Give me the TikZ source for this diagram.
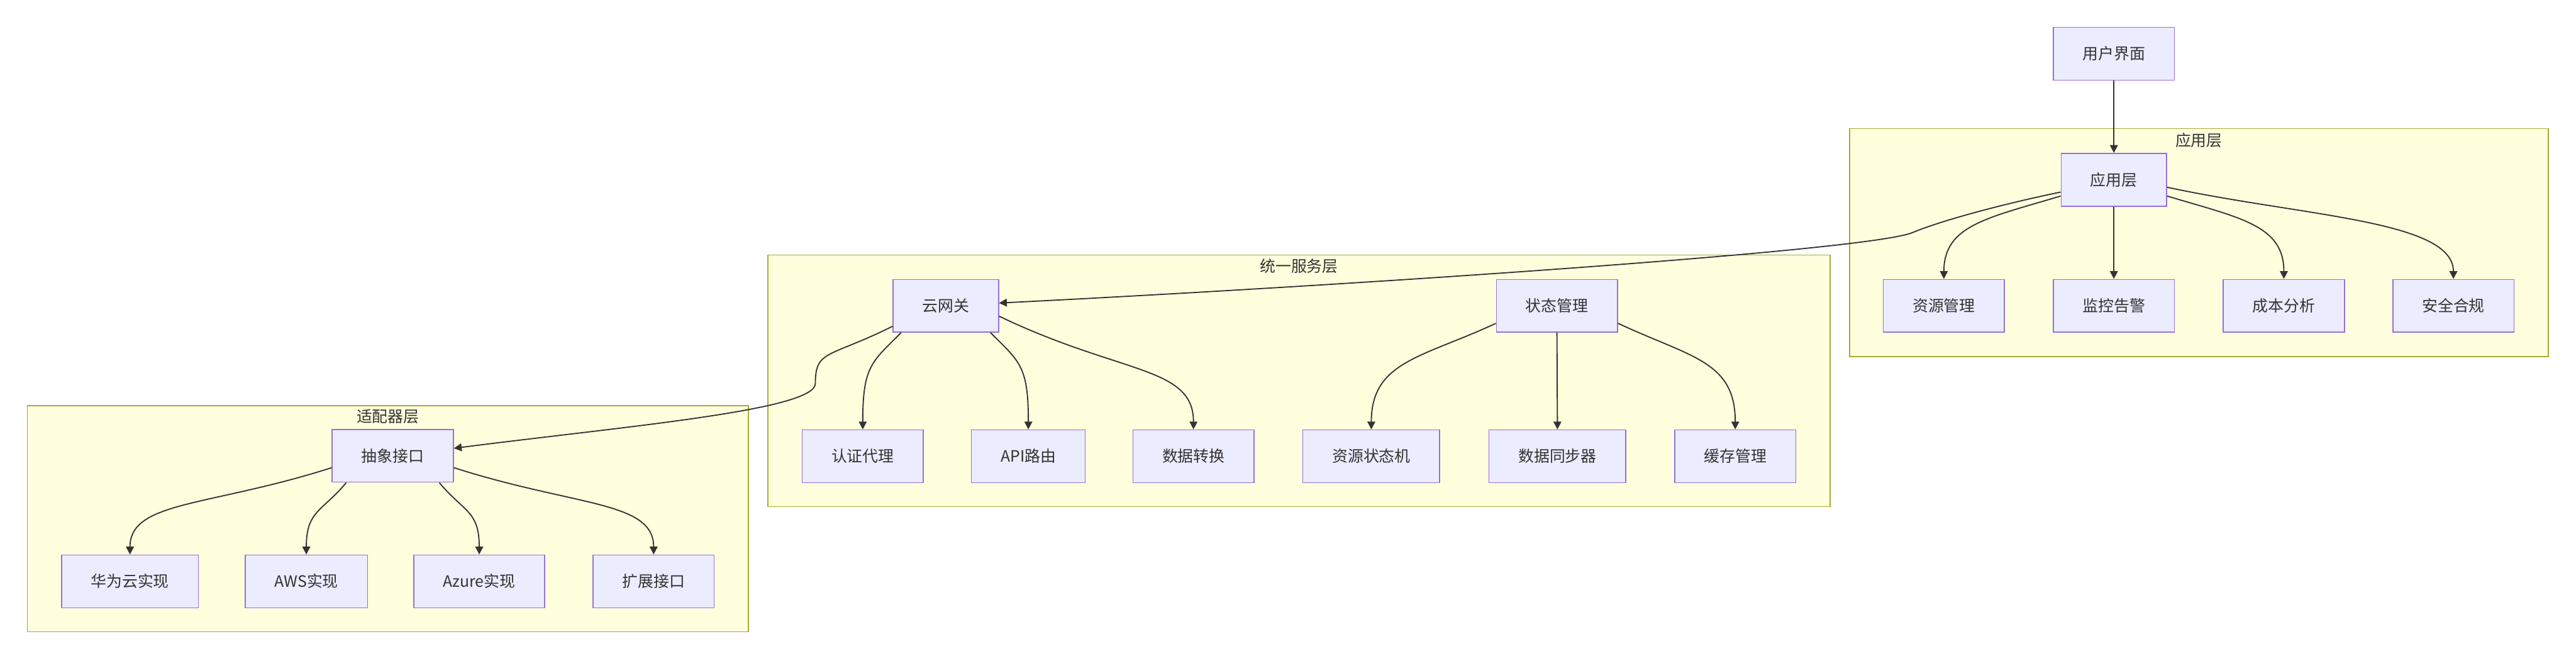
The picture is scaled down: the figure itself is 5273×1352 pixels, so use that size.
\documentclass[tikz,border=0pt]{standalone}
\usepackage{fontspec}
\setmainfont{Noto Sans CJK SC}
\usepackage{xcolor}
\usepackage{tikz}
\usetikzlibrary{positioning,arrows.meta}

\definecolor{nodefill}{HTML}{ECECFF}
\definecolor{nodeline}{HTML}{9370DB}
\definecolor{layerfill}{HTML}{FFFFDE}
\definecolor{layerline}{HTML}{AAAA33}
\definecolor{inkgray}{HTML}{333333}

\begin{document}
\begin{tikzpicture}[x=0.5pt, y=-0.5pt,
  block/.style={rectangle, draw=nodeline, fill=nodefill, line width=1pt, text=inkgray,
    font=\fontsize{16pt}{19pt}\selectfont, inner xsep=30pt, minimum height=54pt},
  layer/.style={draw=layerline, fill=layerfill, line width=1pt},
  layertitle/.style={text=inkgray, font=\fontsize{16pt}{19pt}\selectfont, inner sep=0pt},
  link/.style={draw=inkgray, line width=1.2pt, -{Triangle[length=8pt,width=8pt]}}]
  \useasboundingbox (0,0) rectangle (5273,1352);
  % Layers
  \draw[layer] (3786,263) rectangle (5216,730);
  \draw[layer] (1572,522) rectangle (3746,1037);
  \draw[layer] (56,830) rectangle (1532,1293);
  \node[layertitle] (appT) at (4501,287) {应用层};
  \node[layertitle] (svcT) at (2659,545) {统一服务层};
  \node[layertitle] (adpT) at (794,852) {适配器层};
  % Nodes
  \node[block] (ui) at (4327,110) {用户界面};
  \node[block] (app) at (4327,368) {应用层};
  \foreach \n/\x/\t in {res/3979/资源管理, mon/4327/监控告警, cost/4675/成本分析, sec/5022/安全合规} {
    \node[block] (\n) at (\x,626) {\t};
  }
  \node[block] (gw) at (1936,626) {云网关};
  \node[block] (state) at (3187,626) {状态管理};
  \foreach \n/\x/\t in {auth/1766/认证代理, api/2105/API路由, conv/2443/数据转换, fsm/2807/资源状态机, sync/3188/数据同步器, cache/3552/缓存管理} {
    \node[block] (\n) at (\x,934) {\t};
  }
  \node[block] (abs) at (804,933) {抽象接口};
  \foreach \n/\x/\t in {hw/266/华为云实现, aws/627/AWS实现, az/981/Azure实现, ext/1338/扩展接口} {
    \node[block] (\n) at (\x,1190) {\t};
  }
  % Edges
  \draw[link] (ui.south) -- (app.north);
  \draw[link] (app.193) .. controls +(-120,25) and +(60,-25) .. (3915,476) .. controls +(-90,38) and +(700,-35) .. (gw.3);
  \draw[link] (app.197) .. controls +(-150,45) and +(0,-110) .. (res.north);
  \draw[link] (app.south) -- (mon.north);
  \draw[link] (app.-17) .. controls +(150,45) and +(0,-110) .. (cost.north);
  \draw[link] (app.-8) .. controls +(280,60) and +(0,-120) .. (sec.north);
  \draw[link] (gw.211) .. controls +(-60,60) and +(0,-130) .. (auth.north);
  \draw[link] (gw.-31) .. controls +(60,60) and +(0,-130) .. (api.north);
  \draw[link] (gw.-11) .. controls +(250,120) and +(0,-130) .. (conv.north);
  \draw[link] (gw.201) .. controls +(-130,65) and +(0,-70) .. (1669,785) .. controls +(0,55) and +(350,-45) .. (abs.7);
  \draw[link] (state.196) .. controls +(-150,70) and +(0,-140) .. (fsm.north);
  \draw[link] (state.south) -- (sync.north);
  \draw[link] (state.-16) .. controls +(150,70) and +(0,-140) .. (cache.north);
  \draw[link] (abs.191) .. controls +(-250,80) and +(0,-110) .. (hw.north);
  \draw[link] (abs.210) .. controls +(-50,60) and +(0,-90) .. (aws.north);
  \draw[link] (abs.-30) .. controls +(50,60) and +(0,-90) .. (az.north);
  \draw[link] (abs.-11) .. controls +(250,80) and +(0,-110) .. (ext.north);
\end{tikzpicture}
\end{document}
